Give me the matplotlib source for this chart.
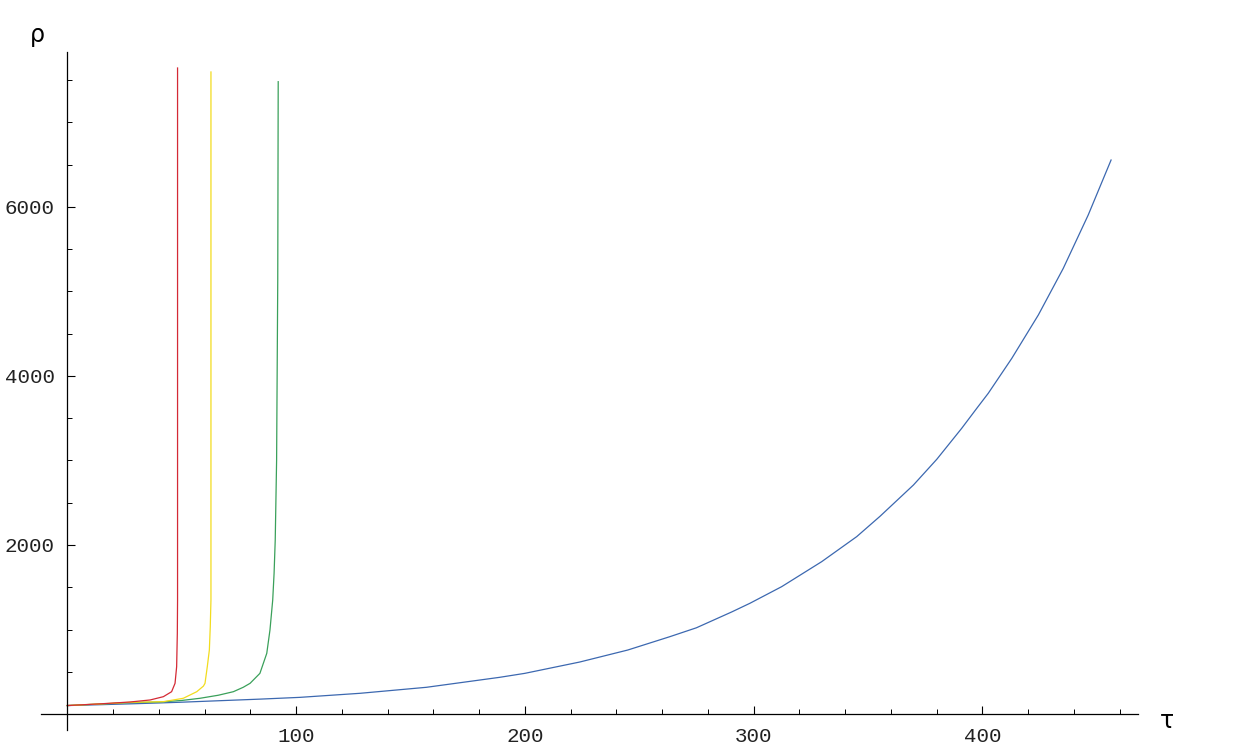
import matplotlib
matplotlib.use('Agg')
import matplotlib.pyplot as plt

# values
red_tau = [0, 14.3, 27.4, 36.2, 42.0, 45.6, 47.1, 47.8, 48.1, 48.2, 48.2, 48.2]
red_rho = [100, 120, 142, 166, 205, 264, 363, 560, 955, 1349, 3000, 7645]

yel_tau = [0, 14.3, 27.4, 42.0, 50.7, 56.6, 59.5, 60.2, 61.2, 62.1, 62.5, 62.8, 62.8, 62.8]
yel_rho = [100, 119, 138, 146, 186, 264, 330, 363, 560, 757, 1033, 1349, 3000, 7598]

grn_tau = [0, 14.3, 27.4, 40.5, 50.0, 58.0, 66.0, 72.6, 76.9, 79.9, 84.2, 87.2, 88.6,
           89.8, 90.4, 90.9, 91.5, 92.0, 92.2]
grn_rho = [100, 118, 134, 142, 160, 186, 222, 264, 316, 363, 481, 718, 994,
           1349, 1665, 2059, 3000, 5136, 7483]

blu_tau = [0, 14.3, 27.4, 40.5, 49.3, 84.2, 101.7, 128.0, 157.0, 189.0, 200.0, 224.0,
           245.0, 263.4, 275.0, 290.4, 298.4, 312.3, 329.8, 345.1, 355.3, 369.9, 380.1,
           391.0, 397.6, 402.6, 412.9, 424.5, 435.4, 446.3, 456.3]
blu_rho = [100, 110, 120, 131, 139, 176, 197, 245, 316, 434, 481, 615,
           757, 915, 1020, 1207, 1310, 1507, 1803, 2099, 2340, 2710, 3014,
           3381, 3618, 3795, 4209, 4722, 5274, 5905, 6556]

x_major = [100, 200, 300, 400]
x_minor = [20, 40, 60, 80, 120, 140, 160, 180, 220, 240, 260, 280,
           320, 340, 360, 380, 420, 440, 460]
y_major = [2000, 4000, 6000]
y_minor = [500, 1000, 1500, 2500, 3000, 3500, 4500, 5000, 5500, 6500, 7000, 7500]

fig = plt.figure(figsize=(12.33, 7.49), dpi=100)
ax = fig.add_axes([0, 0, 1, 1])
ax.set_xlim(-29.42, 509.6)
ax.set_ylim(-414.2, 8449.7)

ax.plot(blu_tau, blu_rho, color='#3c68b0', lw=0.9)
ax.plot(grn_tau, grn_rho, color='#3aa05a', lw=0.9)
ax.plot(yel_tau, yel_rho, color='#f2dc1e', lw=0.9)
ax.plot(red_tau, red_rho, color='#d42a35', lw=0.9)

for s in ['top', 'right']:
    ax.spines[s].set_visible(False)
ax.spines['left'].set_position(('data', 0))
ax.spines['bottom'].set_position(('data', 0))
ax.spines['left'].set_bounds(-189, 7834)
ax.spines['bottom'].set_bounds(-11.5, 468)
ax.spines['left'].set_linewidth(0.9)
ax.spines['bottom'].set_linewidth(0.9)

ax.set_xticks(x_major)
ax.set_xticks(x_minor, minor=True)
ax.set_yticks(y_major)
ax.set_yticks(y_minor, minor=True)
ax.set_xticklabels([str(v) for v in x_major])
ax.set_yticklabels([str(v) for v in y_major])
ax.tick_params(which='major', direction='in', length=5.8, width=0.8, pad=9)
ax.tick_params(which='minor', direction='in', length=3.6, width=0.7)
for lab in ax.get_xticklabels() + ax.get_yticklabels():
    lab.set_fontfamily('Liberation Mono')
    lab.set_fontsize(15)
    lab.set_color('#222222')

fig.text(37 / 1233, 1 - 35 / 749, 'ρ', fontsize=17, ha='center', va='center')
fig.text(1167 / 1233, 1 - 721 / 749, 'τ', fontsize=17, ha='center', va='center')

fig.savefig('out.png', dpi=100)
